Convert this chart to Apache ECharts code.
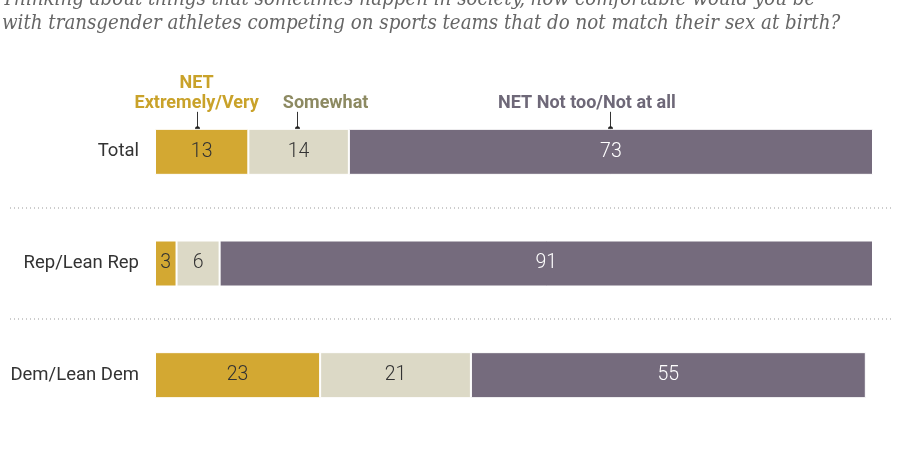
<!DOCTYPE html>
<html>
<head>
<meta charset="utf-8">
<script src="https://cdn.jsdelivr.net/npm/echarts@6/dist/echarts.min.js"></script>
<style>
  html, body { margin: 0; padding: 0; background: #fff; }
  #chart { width: 900px; height: 471px; }
</style>
</head>
<body>
<div id="chart"></div>
<script>
// data
const categories = ['Total', 'Rep/Lean Rep', 'Dem/Lean Dem'];
const seriesNames = ['NET Extremely/Very', 'Somewhat', 'NET Not too/Not at all'];
const extremelyVery = [13, 3, 23];
const somewhat = [14, 6, 21];
const notTooNotAtAll = [73, 91, 55];

const titleLines = [
  'Thinking about things that sometimes happen in society, how comfortable would you be',
  'with transgender athletes competing on sports teams that do not match their sex at birth?'
];

const colors = ['#d3a832', '#dcd9c6', '#756b7d'];
const legendColors = ['#c9a22a', '#8d8a62', '#6e6878'];
const labelColors = ['#333', '#333', '#fff'];

const myChart = echarts.init(document.getElementById('chart'));

const seriesData = [extremelyVery, somewhat, notTooNotAtAll];

const option = {
  animation: false,
  grid: { left: 155, right: 27, top: 96, bottom: 40 },
  xAxis: {
    type: 'value', min: 0, max: 100,
    show: false
  },
  yAxis: {
    type: 'category',
    data: categories,
    inverse: true,
    axisLine: { show: false },
    axisTick: { show: false },
    axisLabel: {
      margin: 16,
      fontSize: 18.5,
      color: '#333',
      fontFamily: 'Roboto'
    }
  },
  series: seriesData.map((d, i) => ({
    name: seriesNames[i],
    type: 'bar',
    stack: 'all',
    barWidth: 46,
    data: d,
    itemStyle: { color: colors[i], borderColor: '#fff', borderWidth: 1 },
    label: {
      show: true,
      position: 'inside',
      fontSize: 19.5,
      fontFamily: 'Roboto',
      fontWeight: 300,
      color: labelColors[i]
    }
  }))
};
myChart.setOption(option);

// titles, separators and callout labels positioned via the chart's own scales
const graphics = [];
titleLines.forEach((t, i) => {
  graphics.push({
    type: 'text', x: 2, y: 0 + i * 24,
    style: {
      text: t,
      font: 'italic 20.3px "DejaVu Serif Condensed", "DejaVu Serif"',
      fill: '#666',
      verticalAlign: 'middle'
    }
  });
});

const yCenters = categories.map(c => myChart.convertToPixel({ gridIndex: 0 }, [0, c])[1]);
for (let i = 0; i < yCenters.length - 1; i++) {
  const y = Math.round((yCenters[i] + yCenters[i + 1]) / 2);
  graphics.push({
    type: 'line',
    shape: { x1: 10, y1: y, x2: 893, y2: y },
    style: { stroke: '#999', lineWidth: 1, lineDash: [1, 3] }
  });
}

const legendText = ['NET\nExtremely/Very', 'Somewhat', 'NET Not too/Not at all'];
const leaderDx = [-5, -2, -1];
const labelDx = [-5, 27, -24];
let start = 0;
seriesData.forEach((d, i) => {
  const mid = start + d[0] / 2;
  start += d[0];
  const p = myChart.convertToPixel({ gridIndex: 0 }, [mid, categories[0]]);
  const barTop = p[1] - 23;
  const lx = Math.round(p[0] + leaderDx[i]) + 0.5;
  graphics.push({
    type: 'line',
    shape: { x1: lx, y1: barTop - 17, x2: lx, y2: barTop },
    style: { stroke: '#333', lineWidth: 1 }
  });
  graphics.push({
    type: 'circle',
    shape: { cx: lx, cy: barTop, r: 2.5 },
    style: { fill: '#222' }
  });
  graphics.push({
    type: 'text',
    x: p[0] + labelDx[i], y: barTop - 15,
    style: {
      text: legendText[i],
      font: 'bold 18px Roboto',
      fill: legendColors[i],
      align: 'center',
      verticalAlign: 'bottom',
      lineHeight: 20
    }
  });
});

myChart.setOption({ graphic: graphics });
</script>
</body>
</html>
